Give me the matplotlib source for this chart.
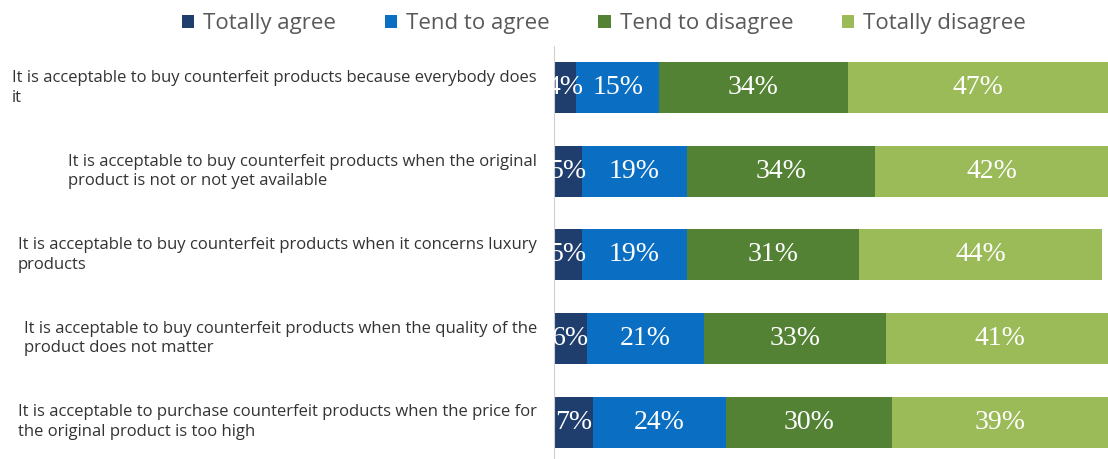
import numpy as np
import matplotlib.pyplot as plt
from matplotlib.patches import Patch

statements = [
    "It is acceptable to buy counterfeit products because everybody does\nit",
    "It is acceptable to buy counterfeit products when the original\nproduct is not or not yet available",
    "It is acceptable to buy counterfeit products when it concerns luxury\nproducts",
    "It is acceptable to buy counterfeit products when the quality of the\nproduct does not matter",
    "It is acceptable to purchase counterfeit products when the price for\nthe original product is too high",
]
answers = ["Totally agree", "Tend to agree", "Tend to disagree", "Totally disagree"]
totally_agree = [4, 5, 5, 6, 7]
tend_agree = [15, 19, 19, 21, 24]
tend_disagree = [34, 34, 31, 33, 30]
totally_disagree = [47, 42, 44, 41, 39]

colors = ["#1f3e6e", "#0a6fc2", "#548235", "#9bbb59"]

fig = plt.figure(figsize=(11.08, 4.59), dpi=100)
ax = fig.add_axes([0.5, -0.011, 0.5, 0.911])

y = np.arange(len(statements))
series = [totally_agree, tend_agree, tend_disagree, totally_disagree]
left = np.zeros(len(statements))
for vals, col in zip(series, colors):
    vals = np.array(vals, dtype=float)
    ax.barh(y, vals, left=left, height=0.61, color=col, edgecolor="none")
    for yi, l, v in zip(y, left, vals):
        ax.text(l + v / 2, yi, f"{int(v)}%", ha="center", va="center",
                color="white", fontsize=20, family="Liberation Serif", clip_on=True)
    left += vals

ax.set_xlim(0, 100)
ax.set_ylim(len(statements) - 0.5, -0.5)
ax.set_xticks([])
ax.set_yticks([])
for s in ["top", "right", "bottom"]:
    ax.spines[s].set_visible(False)
ax.spines["left"].set_color("#d0d0d0")
ax.spines["left"].set_linewidth(0.8)

# statement labels, block right-aligned against the bars
for yi, txt in zip(y, statements):
    ax.text(-3.1, yi, txt, ha="right", va="center", multialignment="left",
            fontsize=12, family="Open Sans", color="#333333", linespacing=1.3,
            transform=ax.transData, clip_on=False)

handles = [Patch(facecolor=c, edgecolor="none") for c in colors]
fig.legend(handles, answers, loc="upper center", bbox_to_anchor=(0.545, 1.015), ncol=4,
           frameon=False, handlelength=0.55, handleheight=0.55,
           handletextpad=0.4, columnspacing=2.2,
           prop={"family": "Open Sans", "size": 16}, labelcolor="#595959")

fig.savefig("out.png", dpi=100)
